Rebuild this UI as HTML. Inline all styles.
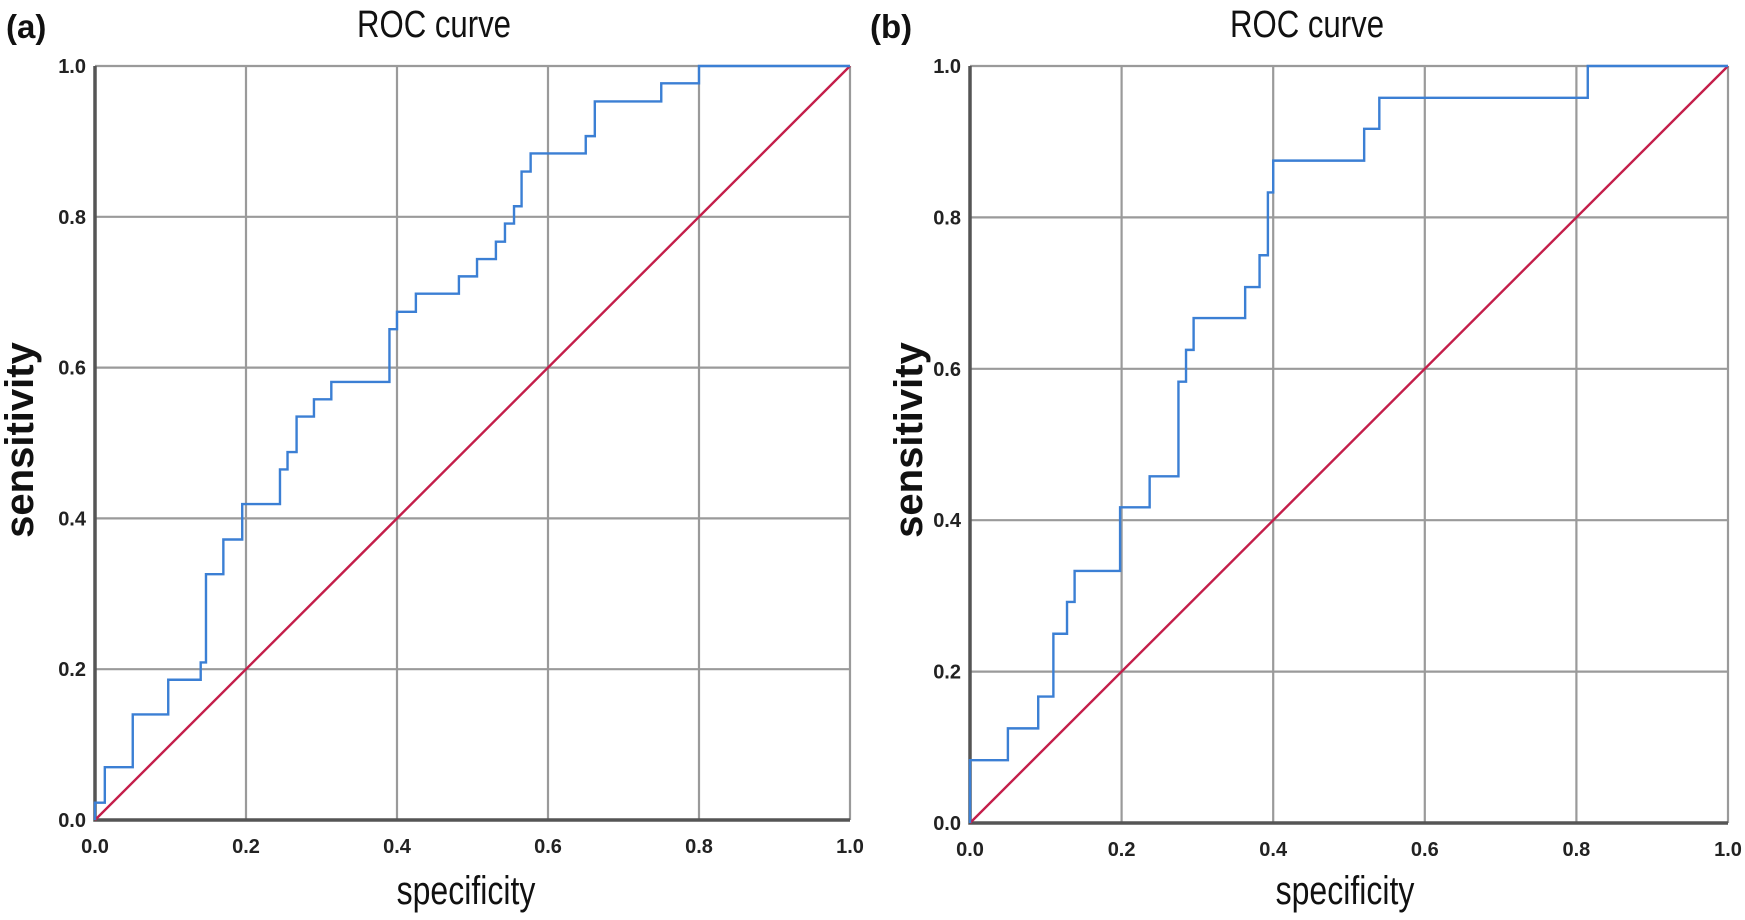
<!DOCTYPE html>
<html><head><meta charset="utf-8"><style>
body{margin:0;background:#fff;}
svg{display:block;font-family:"Liberation Sans",sans-serif;}
</style></head><body>
<svg id="fig" width="1745" height="920" viewBox="0 0 1745 920">
</svg>
<script>
const ticks=[0,0.2,0.4,0.6,0.8,1.0];
const tickLabels=["0.0","0.2","0.4","0.6","0.8","1.0"];
const aSpec=[0,0.013,0.05,0.097,0.14,0.147,0.17,0.195,0.245,0.255,0.267,0.29,0.313,0.39,0.4,0.425,0.482,0.506,0.531,0.543,0.555,0.565,0.577,0.65,0.662,0.75,0.8];
const aSens=[0.023,0.07,0.14,0.186,0.209,0.326,0.372,0.419,0.465,0.488,0.535,0.558,0.581,0.651,0.674,0.698,0.721,0.744,0.767,0.791,0.814,0.860,0.884,0.907,0.953,0.977,1.0];
const bSpec=[0,0.05,0.09,0.11,0.128,0.138,0.198,0.237,0.275,0.285,0.295,0.363,0.382,0.393,0.4,0.52,0.54,0.815];
const bSens=[0.083,0.125,0.167,0.25,0.292,0.333,0.417,0.458,0.583,0.625,0.667,0.708,0.75,0.833,0.875,0.917,0.958,1.0];
const NS="http://www.w3.org/2000/svg";
const svg=document.getElementById('fig');
function mk(t,at,parent){const e=document.createElementNS(NS,t);for(const k in at)e.setAttribute(k,at[k]);(parent||svg).appendChild(e);return e;}
function panel(p,spec,sens){
  const g=mk('g',{});
  
  
  const X=v=>p.x0+v*(p.x1-p.x0), Y=v=>p.y1-v*(p.y1-p.y0);
  ticks.forEach((t,i)=>{
    const gx=mk('line',{x1:X(t),x2:X(t),y1:p.y0,y2:p.y1,stroke:'#9a9a9a','stroke-width':2.2},g);
    
    
    const gy=mk('line',{x1:p.x0,x2:p.x1,y1:Y(t),y2:Y(t),stroke:'#9a9a9a','stroke-width':2.2},g);
    
    
    const tx=mk('text',{x:X(t),y:p.y1+33,'text-anchor':'middle','font-size':20,'font-weight':'bold',fill:'#222'},g);
    tx.textContent=tickLabels[i];
    
    
    const ty=mk('text',{x:p.x0-9,y:Y(t)+7,'text-anchor':'end','font-size':20,'font-weight':'bold',fill:'#222'},g);
    ty.textContent=tickLabels[i];
    
    
  });
  const ax=mk('path',{d:`M${p.x0},${p.y0}V${p.y1}H${p.x1}`,stroke:'#555',fill:'none','stroke-width':3.5},g);
  
  
  const ref=mk('line',{x1:X(0),y1:Y(0),x2:X(1),y2:Y(1),stroke:'#c41e4a','stroke-width':2.4},g);
  
  
  let d=`M${X(0)},${Y(0)}`;
  for(let i=0;i<spec.length;i++){d+=`H${X(spec[i])}V${Y(sens[i])}`;}
  d+=`H${X(1)}`;
  const c=mk('path',{d:d,stroke:'#3b7fd4',fill:'none','stroke-width':2.4},g);
  
  
  const ti=mk('text',{x:p.tx,y:37,'text-anchor':'middle','font-size':38,fill:'#111',transform:`translate(${p.tx},0) scale(0.82,1) translate(${-p.tx},0)`},g);
  ti.textContent='ROC curve';
  
  
  const xl=mk('text',{x:p.sx,y:904,'text-anchor':'middle','font-size':40,fill:'#111',transform:`translate(${p.sx},0) scale(0.8,1) translate(${-p.sx},0)`},g);
  xl.textContent='specificity';
  
  
  const yl=mk('text',{x:0,y:0,'text-anchor':'middle','font-size':40,'font-weight':'bold',fill:'#111',transform:`translate(${p.yx},440) rotate(-90)`},g);
  yl.textContent='sensitivity';
  
  
  const pl=mk('text',{x:p.lx,y:38,'font-size':33,'font-weight':'bold',fill:'#111'},g);
  pl.textContent='('+p.id+')';
  
  
}
panel({id:'a',x0:95,x1:850,y0:66,y1:820,tx:434,sx:466,yx:33,lx:6},aSpec,aSens);
panel({id:'b',x0:970,x1:1728,y0:66,y1:823,tx:1307,sx:1345,yx:922,lx:870},bSpec,bSens);
</script>
</body></html>
